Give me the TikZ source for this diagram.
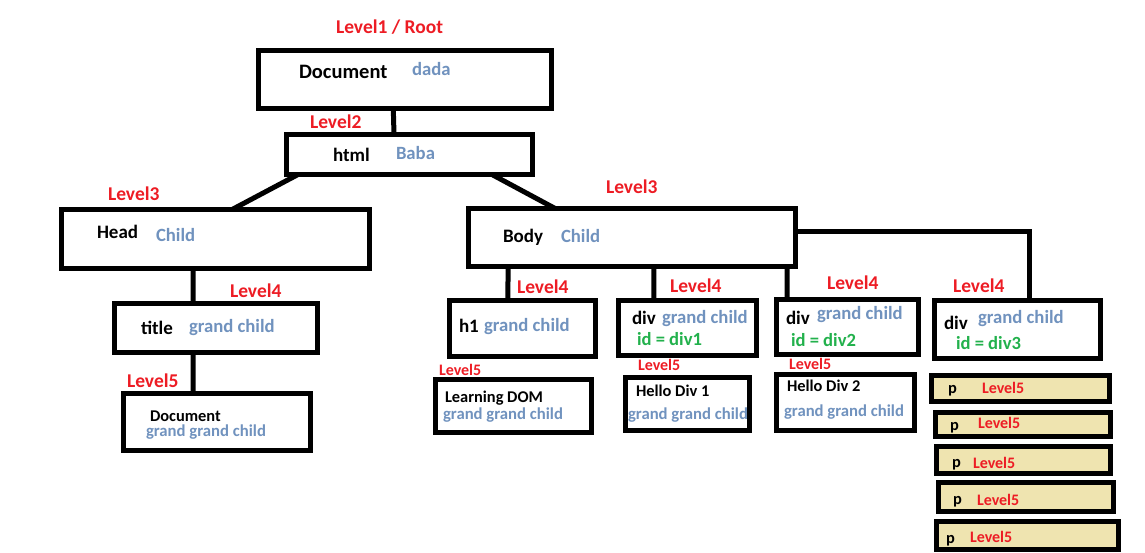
\documentclass[tikz,border=0pt]{standalone}
\usepackage{fontspec}
\setmainfont{Carlito}
\usetikzlibrary{calc}
\definecolor{lvlred}{RGB}{237,28,36}
\definecolor{kidblue}{RGB}{112,146,190}
\definecolor{idgreen}{RGB}{34,177,76}
\definecolor{ptan}{RGB}{239,228,176}

\begin{document}
\begin{tikzpicture}[x=1pt,y=-1pt,line width=5pt,
  dombox/.style={draw,rectangle,inner sep=0pt,outer sep=0pt},
  pbox/.style={dombox,fill=ptan},
  txt/.style={inner sep=0pt,anchor=base west,xshift=-2.5pt,font=\bfseries\fontsize{19}{22}\selectfont},
  small/.style={txt,font=\bfseries\fontsize{16.4}{19}\selectfont},
  lvl/.style={txt,text=lvlred,font=\bfseries\fontsize{19.5}{22}\selectfont},
  lvlsmall/.style={txt,text=lvlred,font=\bfseries\fontsize{16}{19}\selectfont},
  kid/.style={txt,text=kidblue,font=\bfseries\fontsize{18.7}{22}\selectfont},
  kidsmall/.style={txt,text=kidblue,font=\bfseries\fontsize{16.7}{19}\selectfont},
  idtxt/.style={txt,text=idgreen,font=\bfseries\fontsize{18.6}{22}\selectfont}]
  \useasboundingbox (0,0) rectangle (1145,553);

  \node[dombox,minimum width=293pt,minimum height=58pt] (root)   at (405,79.5)   {};
  \node[dombox,minimum width=246pt,minimum height=40pt] (html)   at (409.5,154.5) {};
  \node[dombox,minimum width=308pt,minimum height=59pt] (head)   at (215.5,239)  {};
  \node[dombox,minimum width=327pt,minimum height=58pt] (body)   at (632,237.5)  {};
  \node[dombox,minimum width=203pt,minimum height=49pt] (title)  at (216,328)    {};
  \node[dombox,minimum width=187pt,minimum height=57pt] (tdoc)   at (217,422)    {};
  \node[dombox,minimum width=146pt,minimum height=56pt] (h1)     at (522.5,328.5) {};
  \node[dombox,minimum width=138pt,minimum height=55pt] (div1)   at (687.5,328)  {};
  \node[dombox,minimum width=142pt,minimum height=55pt] (div2)   at (847.5,327)  {};
  \node[dombox,minimum width=166pt,minimum height=58pt] (div3)   at (1017.5,329.5) {};
  \node[dombox,minimum width=156pt,minimum height=53pt] (learn)  at (513.5,406)  {};
  \node[dombox,minimum width=124pt,minimum height=53pt] (hello1) at (687.5,404)  {};
  \node[dombox,minimum width=138pt,minimum height=56pt] (hello2) at (845.5,402.5) {};
  \node[pbox,minimum width=178pt,minimum height=26pt] (p1) at (1020.5,388.5) {};
  \node[pbox,minimum width=175pt,minimum height=24pt] (p2) at (1023,424.5)   {};
  \node[pbox,minimum width=174pt,minimum height=27pt] (p3) at (1023.5,460)   {};
  \node[pbox,minimum width=175pt,minimum height=29pt] (p4) at (1026,497)     {};
  \node[pbox,minimum width=182pt,minimum height=28pt] (p5) at (1027.5,535.5) {};

  \coordinate (bodyside) at ($(body.north east)!0.405!(body.south east)$);
  \draw ($(root.south west)!0.46!(root.south east)$) -- ($(html.north west)!0.437!(html.north east)$);
  \draw ($(html.south west)!0.047!(html.south east)$) -- ($(head.north west)!0.554!(head.north east)$);
  \draw ($(html.south west)!0.835!(html.south east)$) -- ($(body.north west)!0.265!(body.north east)$);
  \draw ($(head.south west)!0.427!(head.south east)$) -- ($(title.north west)!0.387!(title.north east)$);
  \draw ($(title.south west)!0.387!(title.south east)$) -- ($(tdoc.north west)!0.372!(tdoc.north east)$);
  \draw ($(body.south west)!0.121!(body.south east)$) -- ($(h1.north west)!0.40!(h1.north east)$);
  \draw ($(body.south west)!0.567!(body.south east)$) -- ($(div1.north west)!0.257!(div1.north east)$);
  \draw ($(body.south west)!0.974!(body.south east)$) -- ($(div2.north west)!0.074!(div2.north east)$);
  \draw (bodyside) -| ($(div3.north west)!0.575!(div3.north east)$);

  \node[lvl] (lvlroot) at (336,34) {Level1 / Root};
  \node[txt,font=\bfseries\fontsize{20.5}{24}\selectfont] (tdocument) at (299,79) {Document};
  \node[kid] (kdada) at (412,76) {dada};
  \node[lvl] (lvlhtml) at (310,129) {Level2};
  \node[txt] (thtml) at (333,162) {html};
  \node[kid] (kbaba) at (396,160) {Baba};
  \node[lvl] (lvlhead) at (108,201) {Level3};
  \node[txt] (thead) at (97,239) {Head};
  \node[kid] (khead) at (156,242) {Child};
  \node[lvl] (lvlbody) at (606,194) {Level3};
  \node[txt] (tbody) at (503,243) {Body};
  \node[kid] (kbody) at (561,243) {Child};

  \node[lvl] (lvltitle) at (230,297) {Level4};
  \node[txt] (ttitle) at (141,334) {title};
  \node[kid] (ktitle) at (189,332) {grand child};
  \node[lvl] (lvltdoc) at (127,387) {Level5};
  \node[small] (ttdoc) at (150,421) {Document};
  \node[kidsmall] (ktdoc) at (146,436) {grand grand child};

  \node[lvl] (lvlh1) at (517,293) {Level4};
  \node[txt] (th1) at (459,332) {h1};
  \node[kid] (kh1) at (484,331) {grand child};
  \node[lvl] (lvldiv1) at (670,292) {Level4};
  \node[txt] (tdiv1) at (632,324) {div};
  \node[kid] (kdiv1) at (662,323) {grand child};
  \node[idtxt] (iddiv1) at (637,345) {id = div1};
  \node[lvl] (lvldiv2) at (827,289) {Level4};
  \node[txt] (tdiv2) at (786,324) {div};
  \node[kid] (kdiv2) at (817,319) {grand child};
  \node[idtxt] (iddiv2) at (791,346) {id = div2};
  \node[lvl] (lvldiv3) at (953,292) {Level4};
  \node[txt] (tdiv3) at (944,329) {div};
  \node[kid] (kdiv3) at (978,323) {grand child};
  \node[idtxt] (iddiv3) at (956,349) {id = div3};

  \node[lvlsmall] (lvllearn) at (439,375) {Level5};
  \node[small] (tlearn) at (445,402) {Learning DOM};
  \node[kidsmall] (klearn) at (443,419) {grand grand child};
  \node[lvlsmall] (lvlhello1) at (638,370) {Level5};
  \node[small] (thello1) at (636,396) {Hello Div 1};
  \node[kidsmall] (khello1) at (628,419) {grand grand child};
  \node[lvlsmall] (lvlhello2) at (789,369) {Level5};
  \node[small] (thello2) at (787,391) {Hello Div 2};
  \node[kidsmall] (khello2) at (784,416) {grand grand child};

  \node[small] (tp1) at (948,393) {p};
  \node[lvlsmall] (lvlp1) at (982,393) {Level5};
  \node[small] (tp2) at (950,430) {p};
  \node[lvlsmall] (lvlp2) at (978,428) {Level5};
  \node[small] (tp3) at (952,467) {p};
  \node[lvlsmall] (lvlp3) at (973,468) {Level5};
  \node[small] (tp4) at (953,504) {p};
  \node[lvlsmall] (lvlp4) at (977,505) {Level5};
  \node[small] (tp5) at (946,543) {p};
  \node[lvlsmall] (lvlp5) at (970,542) {Level5};
\end{tikzpicture}
\end{document}
